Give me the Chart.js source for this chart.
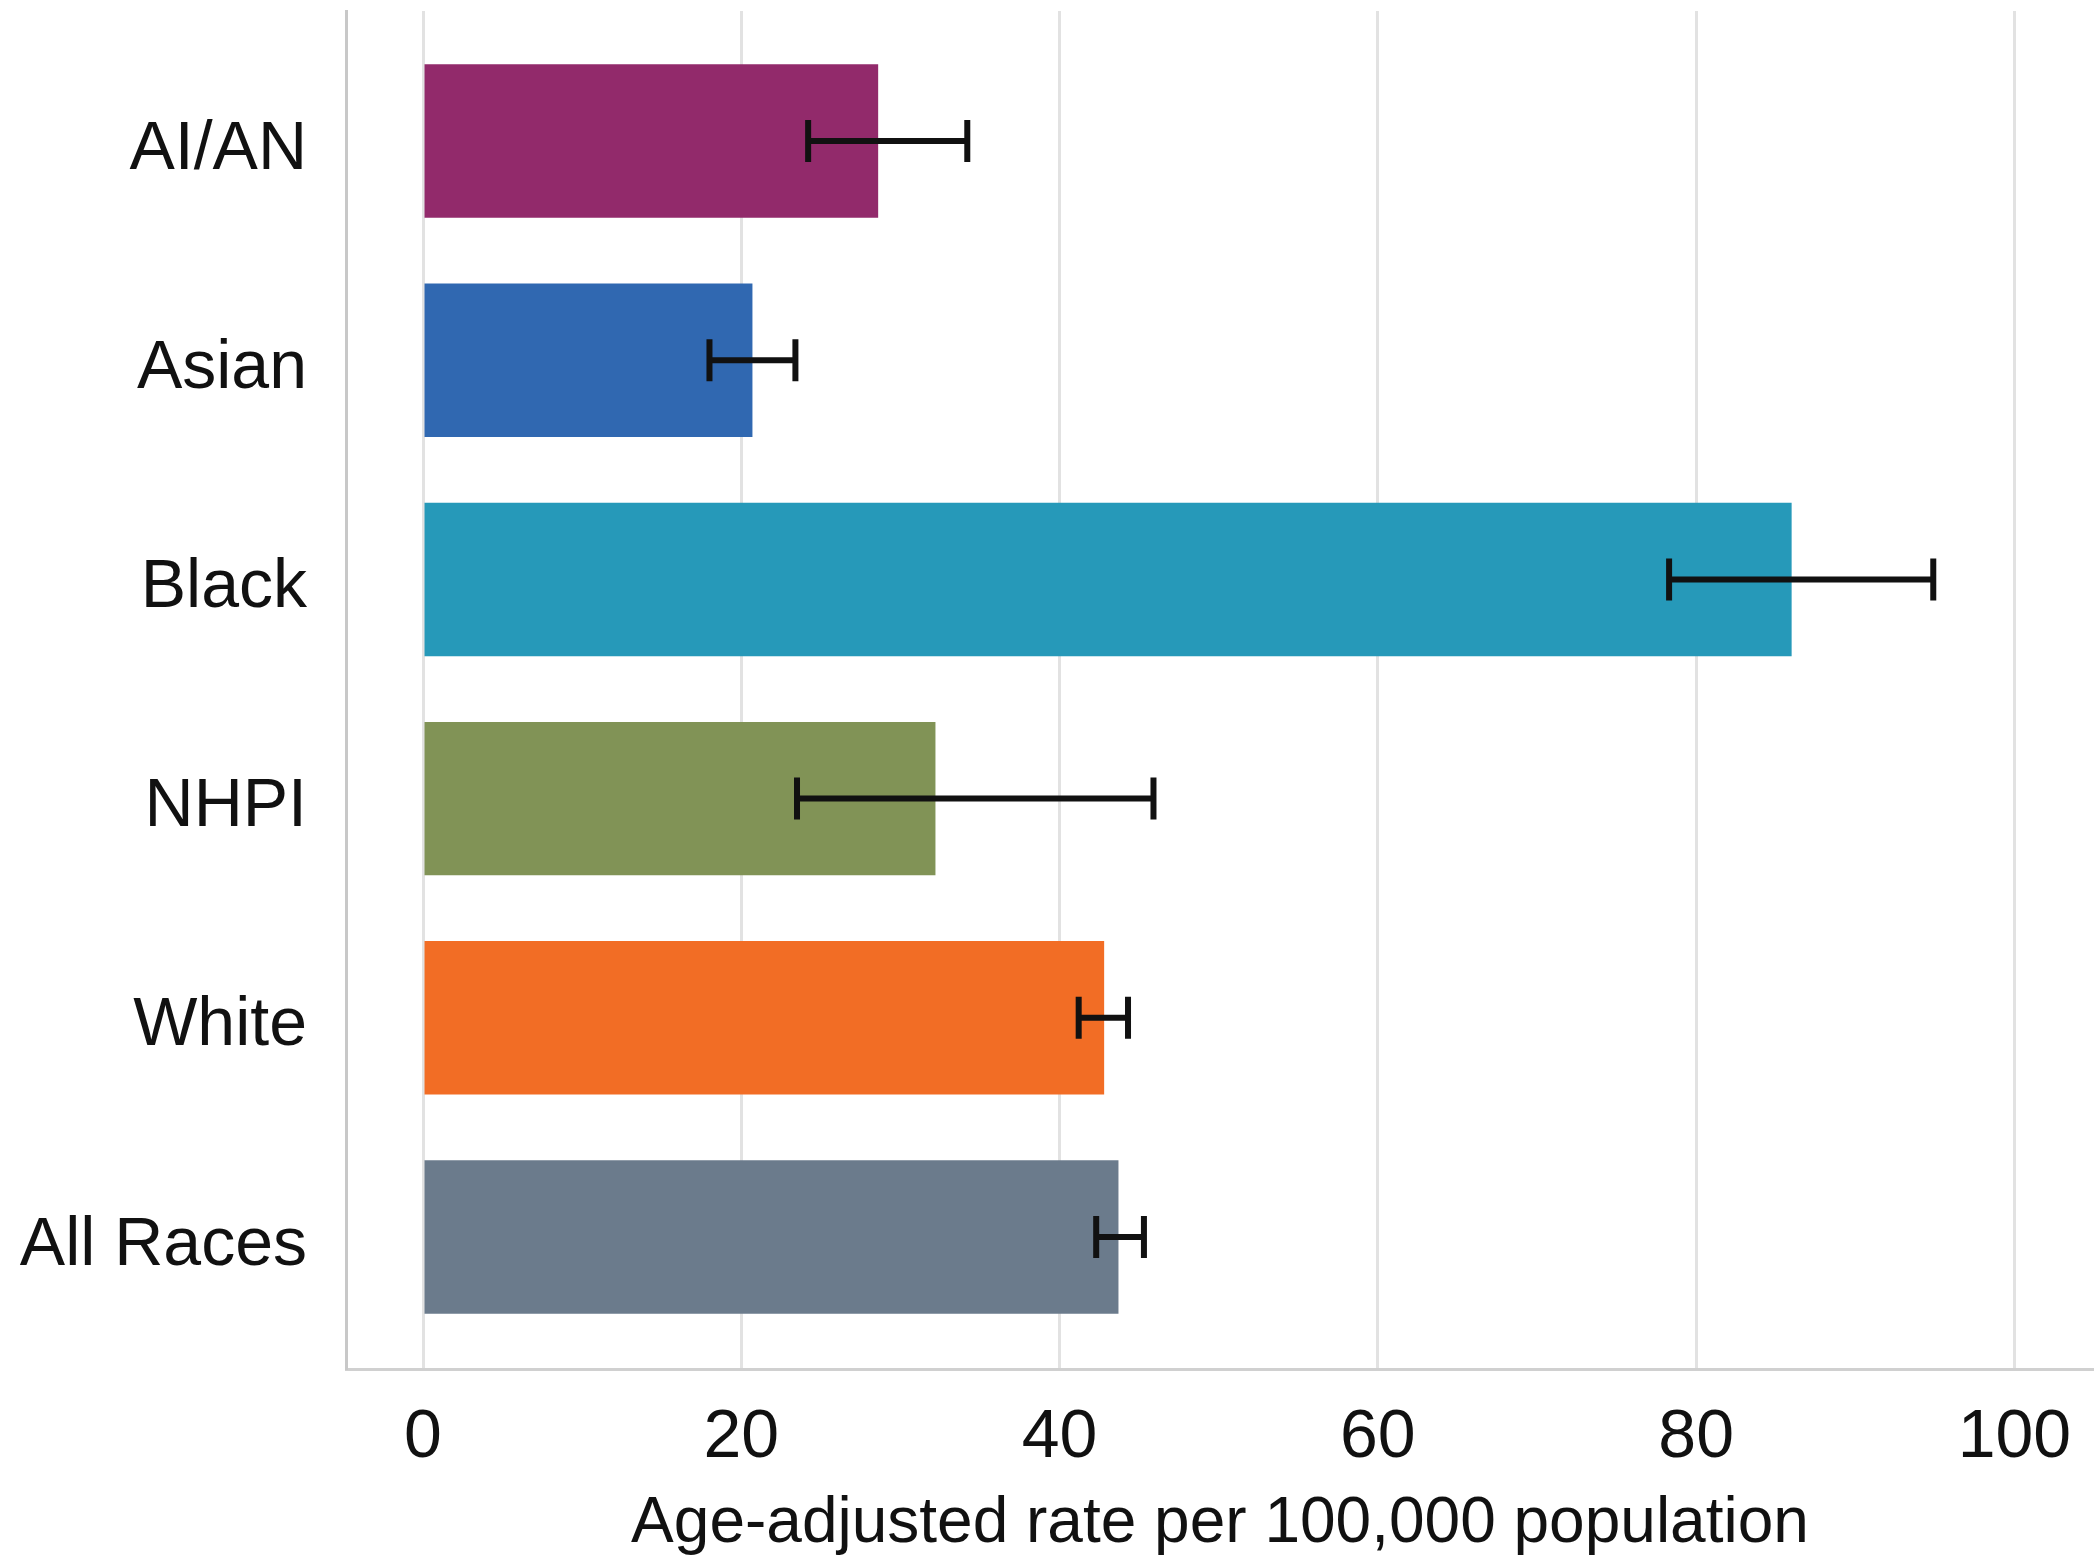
<!DOCTYPE html>
<html>
<head>
<meta charset="utf-8">
<script src="https://cdn.jsdelivr.net/npm/chart.js@4/dist/chart.umd.min.js"></script>
<style>
  html, body { margin: 0; padding: 0; background: #ffffff; }
  #wrap { width: 2094px; height: 1556px; position: relative; }
</style>
</head>
<body>
<div id="wrap"><canvas id="c" width="2094" height="1556"></canvas></div>
<script>
const categories = ["AI/AN", "Asian", "Black", "NHPI", "White", "All Races"];
const rates = [28.6, 20.7, 86.0, 32.2, 42.8, 43.7];
const lowerCI = [24.2, 18.0, 78.3, 23.5, 41.2, 42.3];
const upperCI = [34.2, 23.4, 94.9, 45.9, 44.3, 45.3];
const barColors = ["#922A6B", "#3068B1", "#2699B9", "#819356", "#F26D25", "#6B7B8C"];
const xTicks = [0, 20, 40, 60, 80, 100];
const xTitle = "Age-adjusted rate per 100,000 population";

const FONT = "'Liberation Sans', Arial, sans-serif";
const LABEL_SHIFT = 0.04; // category labels sit slightly below bar centres

const errorBars = {
  id: 'errorBars',
  afterDatasetsDraw(chart) {
    const ctx = chart.ctx;
    const xs = chart.scales.x, ys = chart.scales.y;
    ctx.save();
    ctx.strokeStyle = '#111111';
    ctx.lineWidth = 6;
    ctx.lineCap = 'butt';
    const cap = 21;
    for (let i = 0; i < categories.length; i++) {
      const y = ys.getPixelForValue(i);
      const x1 = xs.getPixelForValue(lowerCI[i]);
      const x2 = xs.getPixelForValue(upperCI[i]);
      ctx.beginPath();
      ctx.moveTo(x1, y); ctx.lineTo(x2, y);
      ctx.moveTo(x1, y - cap); ctx.lineTo(x1, y + cap);
      ctx.moveTo(x2, y - cap); ctx.lineTo(x2, y + cap);
      ctx.stroke();
    }
    ctx.restore();
  }
};

new Chart(document.getElementById('c'), {
  type: 'bar',
  data: {
    datasets: [{
      data: categories.map((c, i) => ({ x: rates[i], y: i })),
      backgroundColor: barColors,
      borderWidth: 0,
      barPercentage: 0.7,
      categoryPercentage: 1.0
    }]
  },
  options: {
    indexAxis: 'y',
    responsive: false,
    animation: false,
    devicePixelRatio: 1,
    layout: { padding: { top: 11, right: 0, left: 0, bottom: 0 } },
    plugins: { legend: { display: false }, tooltip: { enabled: false } },
    scales: {
      x: {
        type: 'linear',
        min: -4.84,
        max: 105.0,
        offset: false,
        afterBuildTicks: (s) => { s.ticks = xTicks.map(v => ({ value: v })); },
        afterFit: (s) => { s.height = 187; s.paddingLeft = 0; s.paddingRight = 0; },
        grid: { color: '#e2e2e2', lineWidth: 3, drawTicks: false, offset: false },
        border: { display: true, color: '#d0d0d0', width: 3 },
        ticks: {
          color: '#111111',
          font: { family: FONT, size: 68 },
          padding: 28,
          maxRotation: 0,
          autoSkip: false
        },
        title: {
          display: true,
          text: xTitle,
          color: '#111111',
          font: { family: FONT, size: 64, lineHeight: 1.0 },
          padding: { top: 0, bottom: 0 }
        }
      },
      y: {
        type: 'linear',
        reverse: true,
        offset: false,
        min: -0.593,
        max: 5.602,
        afterBuildTicks: (s) => { s.ticks = categories.map((c, i) => ({ value: i + LABEL_SHIFT })); },
        afterFit: (s) => { s.width = 346; s.paddingTop = 0; s.paddingBottom = 0; },
        grid: { display: false, drawTicks: false, offset: false },
        border: { display: true, color: '#c8c8c8', width: 3 },
        ticks: {
          color: '#111111',
          font: { family: FONT, size: 68 },
          padding: 39,
          autoSkip: false,
          callback: (v) => { const k = Math.round(v); return categories[k] !== undefined ? categories[k] : ''; }
        }
      }
    }
  },
  plugins: [errorBars]
});
</script>
</body>
</html>
